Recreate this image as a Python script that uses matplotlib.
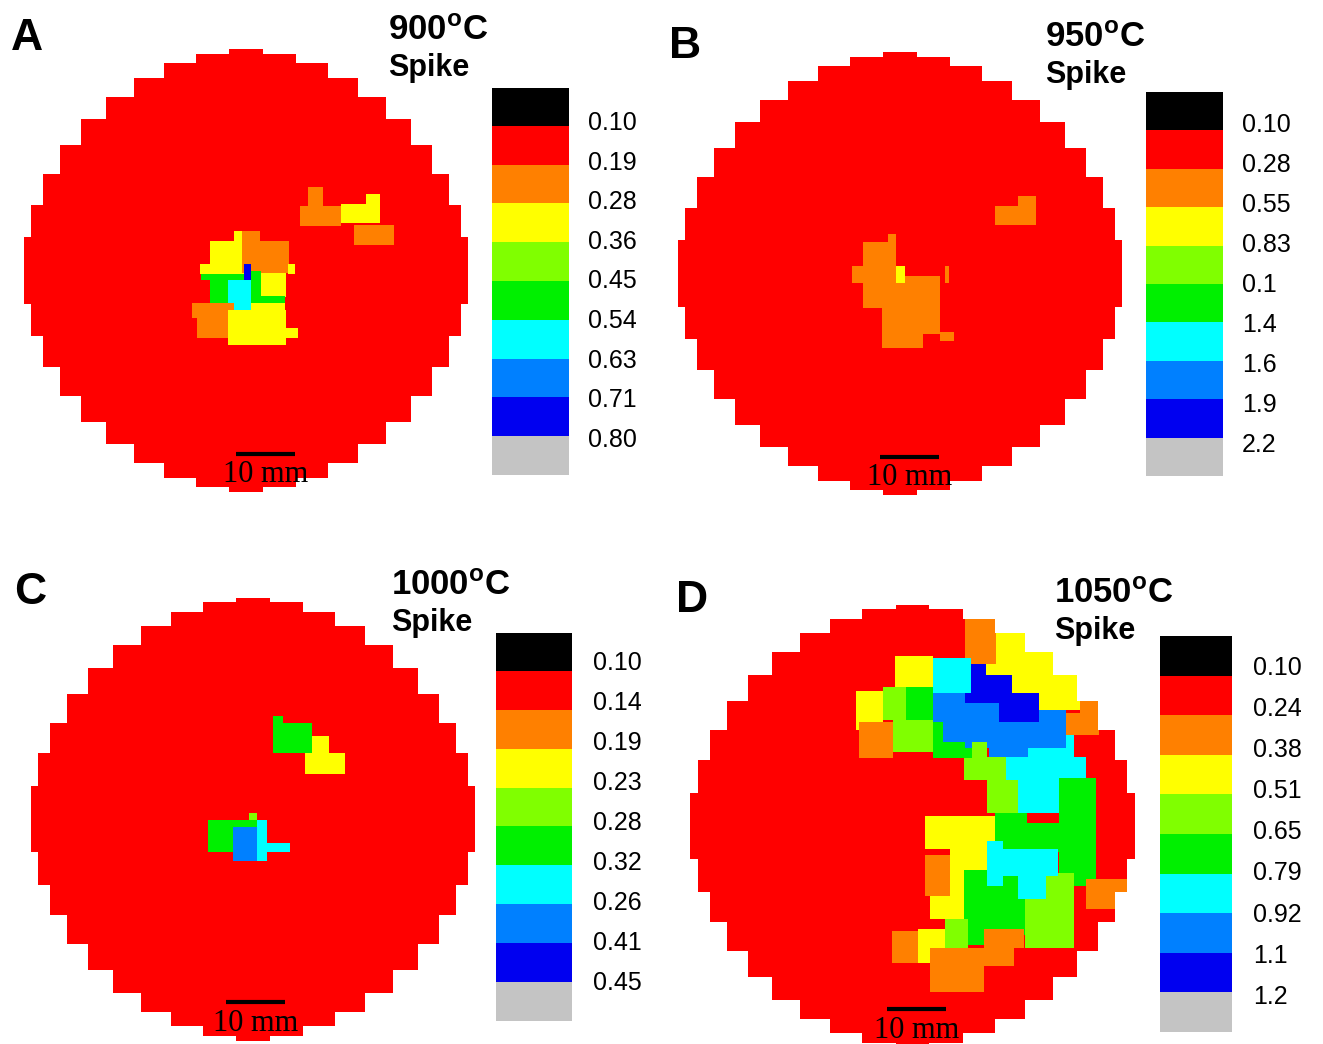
import numpy as np
import matplotlib
matplotlib.use('Agg')
import matplotlib.pyplot as plt
from matplotlib.colors import ListedColormap
from matplotlib.patches import Polygon

plt.rcParams['font.family'] = ['Liberation Sans', 'DejaVu Sans']
plt.rcParams['mathtext.fontset'] = 'custom'
plt.rcParams['mathtext.rm'] = 'Liberation Sans'
plt.rcParams['mathtext.bf'] = 'Liberation Sans:bold'

W, H = 1323, 1044
WAFER_R = 38.1      # 3-inch wafer, mm
RES = 0.25          # map resolution, mm

# colour classes, top of the legend to bottom
level_colors = ['#000000', '#ff0000', '#ff8000', '#ffff00', '#80ff00',
                '#00f000', '#00ffff', '#0080ff', '#0000f0', '#c4c4c4']

temps = ['900', '950', '1000', '1050']
letters = ['A', 'B', 'C', 'D']

labels_a = ['0.10', '0.19', '0.28', '0.36', '0.45', '0.54', '0.63', '0.71', '0.80']
labels_b = ['0.10', '0.28', '0.55', '0.83', '0.1', '1.4', '1.6', '1.9', '2.2']
labels_c = ['0.10', '0.14', '0.19', '0.23', '0.28', '0.32', '0.26', '0.41', '0.45']
labels_d = ['0.10', '0.24', '0.38', '0.51', '0.65', '0.79', '0.92', '1.1', '1.2']

# mapped regions: (x0, x1, y0, y1, class) in mm from wafer centre;
# everything not listed is class 1, later entries are painted over earlier ones
regions_a = [
    (10.6, 13.2, 11.1, 14.4, 2), (9.1, 16.1, 7.7, 11.1, 2),
    (16.1, 22.9, 8.2, 11.5, 3), (20.3, 22.9, 11.5, 13.2, 3),
    (18.3, 25.1, 4.3, 8.0, 2),
    (-6.2, -0.5, 0.9, 5.1, 3), (-2.2, -0.5, 5.1, 6.8, 3),
    (-7.9, 0.2, -0.5, 1.2, 3),
    (-0.5, 7.5, -0.3, 5.1, 2), (-0.5, 2.4, 5.1, 6.8, 2),
    (7.2, 8.4, -0.5, 1.2, 3),
    (-7.5, 2.4, -1.7, -0.5, 5), (-6.2, -3.1, -5.6, -1.7, 5),
    (1.0, 2.7, -6.8, 0.0, 5),
    (-3.1, 1.0, -6.8, -1.7, 6),
    (2.7, 7.0, -4.6, -0.3, 3), (2.4, 6.7, -5.6, -4.4, 5),
    (-0.3, 1.0, -1.5, 1.2, 8),
    (-9.1, -2.2, -8.0, -5.6, 2), (-8.4, -3.1, -11.5, -8.0, 2),
    (-3.1, 7.0, -12.8, -6.8, 3), (1.0, 6.7, -6.8, -5.5, 3),
    (7.0, 8.9, -11.5, -9.9, 3),
]

regions_b = [
    (16.2, 23.1, 8.5, 11.6, 2), (20.2, 23.1, 11.6, 13.3, 2),
    (-6.3, -0.5, -5.8, 5.3, 2), (-2.1, -0.5, 5.3, 7.0, 2),
    (-8.0, -6.3, -1.5, 1.4, 2),
    (-0.5, 6.8, -10.3, -0.3, 2), (7.7, 8.5, -1.5, 1.4, 2),
    (-3.1, 3.8, -12.8, -5.8, 2), (6.8, 9.1, -11.5, -10.1, 2),
    (-0.5, 0.9, -1.7, 1.4, 3),
]

regions_c = [
    (3.4, 5.1, 16.6, 17.8, 5), (3.4, 10.1, 11.5, 16.6, 5),
    (10.1, 12.8, 11.5, 14.4, 3), (8.9, 15.7, 7.9, 11.5, 3),
    (-7.7, -3.4, -5.6, -0.2, 5), (-7.7, 0.7, -1.4, -0.2, 5),
    (-0.5, 0.7, -0.2, 1.2, 4),
    (-3.4, 0.7, -7.0, -1.4, 7),
    (0.7, 2.4, -7.0, -0.2, 6), (2.4, 6.3, -5.6, -4.1, 6),
]

regions_d = [
    # upper arc
    (9.0, 14.1, 27.8, 36.1, 2),
    (14.1, 19.2, 27.8, 33.9, 3), (19.2, 23.8, 27.8, 31.5, 3),
    (12.1, 28.3, 22.9, 27.8, 3), (21.3, 28.3, 19.8, 22.9, 3),
    (28.3, 31.7, 19.5, 24.1, 2), (24.7, 31.7, 15.6, 19.5, 2),
    (-3.0, 3.3, 23.6, 29.2, 3), (3.3, 9.8, 22.9, 28.9, 6),
    (-9.5, -5.2, 16.4, 23.2, 3),
    (-5.2, -1.0, 18.1, 23.8, 4), (-1.0, 3.3, 18.1, 23.8, 5),
    (-9.0, -3.3, 11.6, 17.8, 2),
    (-3.3, 3.3, 12.6, 18.1, 4), (3.3, 10.2, 11.6, 17.8, 5),
    (19.7, 27.3, 11.8, 15.6, 6), (15.8, 29.5, 7.9, 11.8, 6),
    (17.8, 24.9, 2.2, 7.9, 6),
    (3.3, 9.0, 17.8, 22.9, 7), (5.2, 14.6, 14.4, 21.2, 7),
    (9.0, 26.1, 13.5, 19.8, 7), (12.9, 19.7, 11.8, 14.4, 7),
    (9.8, 12.4, 22.9, 27.8, 8), (12.4, 17.0, 22.9, 25.8, 8),
    (9.0, 14.6, 21.2, 22.9, 8), (14.6, 21.3, 17.8, 22.9, 8),
    (8.6, 12.7, 7.9, 11.6, 4), (10.2, 12.7, 11.6, 14.4, 4),
    (12.7, 15.8, 2.2, 11.8, 4), (15.8, 17.8, 2.2, 7.9, 4),
    # right and lower part
    (24.9, 31.2, -10.4, 8.1, 5), (19.2, 24.9, -4.7, 0.5, 5),
    (13.8, 19.5, -4.1, 2.2, 5),
    (2.1, 13.8, -4.1, 1.6, 3), (6.4, 12.7, -9.8, -4.1, 3),
    (6.4, 8.7, -10.9, -9.8, 3),
    (3.0, 8.7, -16.1, -10.9, 3), (1.0, 5.3, -23.5, -17.8, 3),
    (2.1, 6.4, -12.1, -5.2, 2), (-3.6, 1.0, -23.5, -18.1, 2),
    (8.7, 19.2, -18.9, -7.5, 5), (9.3, 14.4, -20.6, -18.9, 5),
    (19.2, 27.5, -21.2, -8.1, 4), (5.3, 9.3, -23.5, -16.1, 4),
    (12.7, 24.6, -8.7, -4.1, 6), (17.8, 22.6, -12.6, -8.7, 6),
    (12.7, 15.5, -10.4, -2.5, 6),
    (29.5, 36.6, -14.4, -9.2, 2),
    (12.1, 18.9, -21.2, -17.8, 2), (3.0, 17.2, -24.0, -21.2, 2),
    (3.0, 12.1, -28.6, -24.0, 2),
]

all_regions = [regions_a, regions_b, regions_c, regions_d]
all_labels = [labels_a, labels_b, labels_c, labels_d]

# layout, in pixels from the top-left corner of the figure
wafer_centers = [(246, 270.5), (900, 273.5), (253, 819), (912.5, 826)]
wafer_half = (224, 221.5)
cbar_boxes = [(492, 88, 569, 475), (1146, 92, 1223, 476),
              (496, 633, 572, 1021), (1160, 636, 1232, 1032)]
label_x = [588, 1242, 593, 1253]
label_y0 = [123, 125, 663, 668]
label_dy = [39.6, 40.0, 40.0, 41.1]
letter_xy = [(27, 38), (685, 46), (30, 592), (692, 600)]
title_xy = [(388, 40), (1045, 47), (391, 595), (1054, 603)]
bar_x0 = [-1.7, -3.4, -4.6, -4.3]

cmap = ListedColormap(level_colors)


def px_box(x0, y0, x1, y1):
    return [x0 / W, 1 - y1 / H, (x1 - x0) / W, (y1 - y0) / H]


def stair_outline(radius, n_steps):
    # circle traced as a staircase through points at equal angle steps
    ang = (np.arange(n_steps) + 0.5) * 2 * np.pi / n_steps
    px, py = radius * np.sin(ang), radius * np.cos(ang)
    verts = []
    for k in range(n_steps):
        x0, y0 = px[k], py[k]
        x1, y1 = px[(k + 1) % n_steps], py[(k + 1) % n_steps]
        verts.append((x0, y0))
        c1, c2 = (x0, y1), (x1, y0)
        verts.append(c1 if np.hypot(*c1) < np.hypot(*c2) else c2)
    return np.array(verts)


edges = np.arange(-WAFER_R, WAFER_R + RES / 2, RES)
centers = (edges[:-1] + edges[1:]) / 2
X, Y = np.meshgrid(centers, centers)


def paint(regions):
    grid = np.ones(X.shape, dtype=int)
    for x0, x1, y0, y1, lev in regions:
        grid[(X >= x0) & (X < x1) & (Y >= y0) & (Y < y1)] = lev
    return grid


fig = plt.figure(figsize=(W / 100, H / 100), dpi=100)

for i in range(4):
    cx, cy = wafer_centers[i]
    ax = fig.add_axes(px_box(cx - wafer_half[0], cy - wafer_half[1],
                             cx + wafer_half[0], cy + wafer_half[1]))
    im = ax.imshow(paint(all_regions[i]), origin='lower', cmap=cmap,
                   vmin=-0.5, vmax=9.5, interpolation='nearest', aspect='auto',
                   extent=(-WAFER_R, WAFER_R, -WAFER_R, WAFER_R))
    outline = Polygon(stair_outline(WAFER_R * 1.004, 42), closed=True,
                      transform=ax.transData)
    im.set_clip_path(outline)
    ax.set_xlim(-WAFER_R, WAFER_R)
    ax.set_ylim(-WAFER_R, WAFER_R)
    ax.axis('off')

    # 10 mm scale bar
    ax.plot([bar_x0[i], bar_x0[i] + 10], [-31.5, -31.5], color='black',
            lw=3, solid_capstyle='butt', clip_on=False)
    ax.text(bar_x0[i] + 5, -36.4, '10 mm', ha='center', va='baseline',
            fontsize=22, family=['Liberation Serif', 'DejaVu Serif'],
            clip_on=False)

    # legend strip
    cax = fig.add_axes(px_box(*cbar_boxes[i]))
    cax.imshow(np.arange(10)[:, None], cmap=cmap, vmin=-0.5, vmax=9.5,
               aspect='auto', interpolation='nearest', extent=(0, 1, 10, 0))
    cax.axis('off')
    for k, lab in enumerate(all_labels[i]):
        fig.text(label_x[i] / W, 1 - (label_y0[i] + k * label_dy[i]) / H, lab,
                 ha='left', va='center', fontsize=18)

    lx, ly = letter_xy[i]
    fig.text(lx / W, 1 - ly / H, letters[i], ha='center', va='center',
             fontsize=32, fontweight='bold')
    tx, ty = title_xy[i]
    fig.text(tx / W, 1 - ty / H, r'$\mathbf{%s^{o}C}$' % temps[i],
             ha='left', va='baseline', fontsize=25)
    fig.text(tx / W, 1 - (ty + 36) / H, 'Spike', ha='left', va='baseline',
             fontsize=22, fontweight='bold')

fig.savefig('out.png', dpi=100)
